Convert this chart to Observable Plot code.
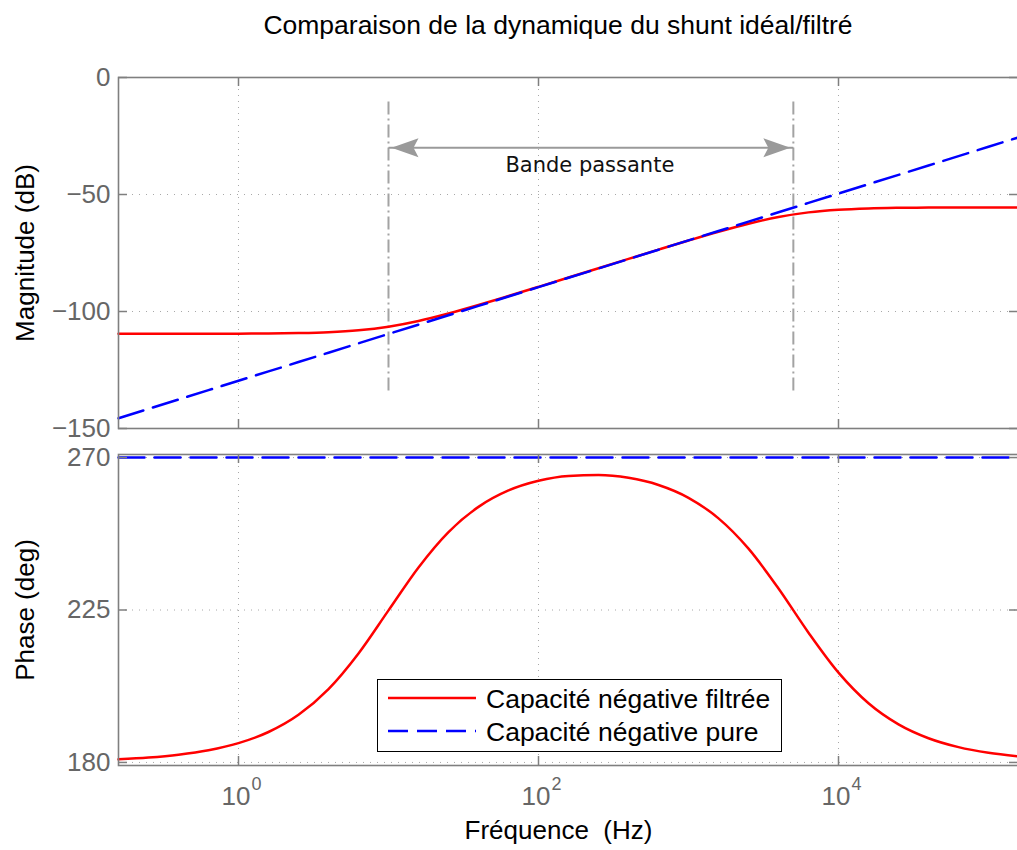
<!DOCTYPE html>
<html>
<head>
<meta charset="utf-8">
<script src="https://cdn.jsdelivr.net/npm/d3@7"></script>
<script src="https://cdn.jsdelivr.net/npm/@observablehq/plot@0.6"></script>
<style>
html, body { margin: 0; padding: 0; background: #fff; overflow: hidden; }
#wrap { position: relative; width: 1018px; height: 850px; overflow: hidden; font-family: "Liberation Sans", Arial, sans-serif; background: #fff; }
#title { height: 50px; line-height: 50px; font-size: 26.5px; color: #000; text-align: center; padding-left: 98px; box-sizing: border-box; width: 1018px; white-space: nowrap; }
#legend { position: absolute; left: 377px; top: 679px; width: 405px; height: 73px; border: 1px solid #000; background: #fff; box-sizing: border-box; z-index: 2; }
#legend svg { display: block; }
</style>
</head>
<body>
<div id="wrap">
  <div id="title">Comparaison de la dynamique du shunt idéal/filtré</div>
  <div id="topPanel"></div>
  <div id="bottomPanel"></div>
  <div id="legend"></div>
</div>
<script>
// ---- Data (frequency in Hz) ----
const freq = [0.1585, 0.2512, 0.3981, 0.631, 1, 1.585, 2.512, 3.981, 6.31, 10,
  15.85, 25.12, 39.81, 63.1, 100, 158.5, 251.2, 398.1, 631, 1000,
  1585, 2512, 3981, 6310, 10000, 15850, 25120, 39810, 63100, 100000, 158490];

const magFiltered = [-109.5, -109.5, -109.49, -109.48, -109.46, -109.39, -109.23, -108.86, -108.04, -106.49,
  -104.05, -100.86, -97.24, -93.39, -89.46, -85.49, -81.5, -77.53, -73.57, -69.67,
  -65.92, -62.48, -59.63, -57.64, -56.49, -55.93, -55.69, -55.59, -55.55, -55.53, -55.52];

const magPure = [-145.6, -141.6, -137.6, -133.6, -129.6, -125.6, -121.6, -117.6, -113.6, -109.6,
  -105.6, -101.6, -97.6, -93.6, -89.6, -85.6, -81.6, -77.6, -73.6, -69.6,
  -65.6, -61.6, -57.6, -53.6, -49.6, -45.6, -41.6, -37.6, -33.6, -29.6, -25.6];

const phaseFiltered = [180.91, 181.44, 182.28, 183.6, 185.7, 188.99, 194.07, 201.65, 212.18, 224.89,
  237.57, 248.01, 255.44, 260.28, 263.14, 264.57, 264.84, 264.01, 261.9, 258.12,
  252.05, 243.11, 231.35, 218.3, 206.51, 197.47, 191.24, 187.15, 184.52, 182.86, 181.8];

const phasePure = [270, 270, 270, 270, 270, 270, 270, 270, 270, 270,
  270, 270, 270, 270, 270, 270, 270, 270, 270, 270,
  270, 270, 270, 270, 270, 270, 270, 270, 270, 270, 270];

const seriesNames = ["Capacité négative filtrée", "Capacité négative pure"];
const xDomain = [0.1585, 158490];
const xTicks = [1, 100, 10000];
const xTickExponents = ["0", "2", "4"];
const magTicks = [-150, -100, -50, 0];
const magDomain = [-150, 0];
const phaseTicks = [180, 225, 270];
const phaseDomain = [179.1, 270.9];
const bandEdges = [10, 5000];
const bandRuleTop = -10.5;
const bandRuleBottom = -134;
const bandArrowY = -30;
const bandLabel = "Bande passante";
const bandLabelFreq = 220;
const bandLabelY = -37.7;
const xLabel = "Fréquence\u00a0 (Hz)";
const magLabel = "Magnitude (dB)";
const phaseLabel = "Phase (deg)";

// ---- Styling ----
const W = 1018, ML = 118, MR = 0;
const frameW = W - ML - MR;
const tickLen = 9;
const axisColor = "#7f7f7f";
const tickTextColor = "#666";
const gridColor = "#a8a8a8";
const red = "#ff0000", blue = "#0000ff";
const fontFamily = "'Liberation Sans', Arial, sans-serif";

const headLeft = { draw(ctx) { ctx.moveTo(3, 0); ctx.lineTo(30, -9.5); ctx.lineTo(25, 0); ctx.lineTo(30, 9.5); ctx.closePath(); } };
const headRight = { draw(ctx) { ctx.moveTo(-3, 0); ctx.lineTo(-30, -9.5); ctx.lineTo(-25, 0); ctx.lineTo(-30, 9.5); ctx.closePath(); } };

const magData = freq.map((f, i) => ({ f, filt: magFiltered[i], pure: magPure[i] }));
const phaseData = freq.map((f, i) => ({ f, filt: phaseFiltered[i], pure: phasePure[i] }));

function frameTicks(yTicks, frameH) {
  return [
    Plot.tickY(yTicks, { y: d => d, insetRight: frameW - tickLen, stroke: axisColor, strokeWidth: 1.5 }),
    Plot.tickY(yTicks, { y: d => d, insetLeft: frameW - tickLen, stroke: axisColor, strokeWidth: 1.5 }),
    Plot.tickX(xTicks, { x: d => d, insetBottom: frameH - tickLen, stroke: axisColor, strokeWidth: 1.5 }),
    Plot.tickX(xTicks, { x: d => d, insetTop: frameH - tickLen, stroke: axisColor, strokeWidth: 1.5 })
  ];
}

// ---- Top panel: magnitude ----
const topH = 390, topMT = 27, topMB = 12;
const topPlot = Plot.plot({
  width: W, height: topH,
  marginLeft: ML, marginRight: MR, marginTop: topMT, marginBottom: topMB,
  style: { fontFamily, fontSize: "26px", background: "transparent", overflow: "visible", maxWidth: "none" },
  x: { type: "log", domain: xDomain, axis: null },
  y: { domain: magDomain, axis: null },
  marks: [
    Plot.gridX(xTicks, { x: d => d, stroke: gridColor, strokeOpacity: 1, strokeWidth: 1, strokeDasharray: "1,5" }),
    Plot.gridY(magTicks, { y: d => d, stroke: gridColor, strokeOpacity: 1, strokeWidth: 1, strokeDasharray: "1,6" }),
    Plot.ruleX(bandEdges, { x: d => d, y1: bandRuleTop, y2: bandRuleBottom, stroke: "#a3a3a3", strokeWidth: 2, strokeDasharray: "13,4,2,4" }),
    Plot.line(magData, { x: "f", y: "filt", stroke: red, strokeWidth: 2.5, curve: "monotone-x" }),
    Plot.line(magData, { x: "f", y: "pure", stroke: blue, strokeWidth: 2.5, strokeDasharray: "26,10" }),
    Plot.link([bandEdges], { x1: d => d[0], x2: d => d[1], y1: () => bandArrowY, y2: () => bandArrowY, stroke: "#9a9a9a", strokeWidth: 2 }),
    Plot.dot([bandEdges[0]], { x: d => d, y: () => bandArrowY, symbol: headLeft, fill: "#9a9a9a", stroke: "none" }),
    Plot.dot([bandEdges[1]], { x: d => d, y: () => bandArrowY, symbol: headRight, fill: "#9a9a9a", stroke: "none" }),
    Plot.text([bandLabel], { x: () => bandLabelFreq, y: () => bandLabelY, text: d => d, fontFamily: "DejaVu Sans", fontSize: 21, fill: "#111" }),
    Plot.frame({ stroke: axisColor, strokeWidth: 1.6 }),
    ...frameTicks(magTicks, topH - topMT - topMB),
    Plot.axisY(magTicks, { tickSize: 0, tickPadding: 8, label: null, color: tickTextColor, fontSize: 26 }),
    Plot.text([magLabel], { frameAnchor: "left", dx: -93, rotate: -90, textAnchor: "middle", lineAnchor: "middle", text: d => d, fill: "#000", fontSize: 26 })
  ]
});
document.getElementById("topPanel").appendChild(topPlot);

// ---- Bottom panel: phase ----
const botH = 410, botMT = 14, botMB = 85;
const bottomPlot = Plot.plot({
  width: W, height: botH,
  marginLeft: ML, marginRight: MR, marginTop: botMT, marginBottom: botMB,
  style: { fontFamily, fontSize: "26px", background: "transparent", overflow: "visible", maxWidth: "none" },
  x: { type: "log", domain: xDomain, axis: null },
  y: { domain: phaseDomain, axis: null },
  marks: [
    Plot.gridX(xTicks, { x: d => d, stroke: gridColor, strokeOpacity: 1, strokeWidth: 1, strokeDasharray: "1,5" }),
    Plot.gridY(phaseTicks, { y: d => d, stroke: gridColor, strokeOpacity: 1, strokeWidth: 1, strokeDasharray: "1,6" }),
    Plot.line(phaseData, { x: "f", y: "filt", stroke: red, strokeWidth: 2.5, curve: "monotone-x" }),
    Plot.line(phaseData, { x: "f", y: "pure", stroke: blue, strokeWidth: 2.5, strokeDasharray: "26,10" }),
    Plot.frame({ stroke: axisColor, strokeWidth: 1.6 }),
    ...frameTicks(phaseTicks, botH - botMT - botMB),
    Plot.axisY(phaseTicks, { tickSize: 0, tickPadding: 8, label: null, color: tickTextColor, fontSize: 26 }),
    Plot.text(xTicks, { x: d => d, frameAnchor: "bottom", lineAnchor: "middle", text: () => "10", textAnchor: "end", dx: 12, dy: 31, fill: tickTextColor, fontSize: 26 }),
    Plot.text(xTicks.map((d, i) => ({ f: d, e: xTickExponents[i] })), { x: "f", frameAnchor: "bottom", lineAnchor: "middle", text: "e", textAnchor: "start", dx: 13, dy: 19, fill: tickTextColor, fontSize: 18 }),
    Plot.text([xLabel], { frameAnchor: "bottom", lineAnchor: "middle", textAnchor: "middle", dx: -10, dy: 65, text: d => d, fill: "#000", fontSize: 26 }),
    Plot.text([phaseLabel], { frameAnchor: "left", dx: -93, rotate: -90, textAnchor: "middle", lineAnchor: "middle", text: d => d, fill: "#000", fontSize: 26 })
  ]
});
document.getElementById("bottomPanel").appendChild(bottomPlot);

// ---- Legend ----
const legendStyles = [
  { color: red, dash: null },
  { color: blue, dash: "20,9" }
];
const ns = "http://www.w3.org/2000/svg";
const lsvg = document.createElementNS(ns, "svg");
lsvg.setAttribute("width", 403);
lsvg.setAttribute("height", 71);
seriesNames.forEach((name, i) => {
  const yLine = 18 + i * 33;
  const ln = document.createElementNS(ns, "line");
  ln.setAttribute("x1", 10); ln.setAttribute("x2", 98);
  ln.setAttribute("y1", yLine); ln.setAttribute("y2", yLine);
  ln.setAttribute("stroke", legendStyles[i].color);
  ln.setAttribute("stroke-width", 2.5);
  if (legendStyles[i].dash) ln.setAttribute("stroke-dasharray", legendStyles[i].dash);
  lsvg.appendChild(ln);
  const tx = document.createElementNS(ns, "text");
  tx.setAttribute("x", 108);
  tx.setAttribute("y", yLine + 9.5);
  tx.setAttribute("font-size", 26.5);
  tx.setAttribute("font-family", fontFamily);
  tx.setAttribute("fill", "#000");
  tx.textContent = name;
  lsvg.appendChild(tx);
});
document.getElementById("legend").appendChild(lsvg);
</script>
</body>
</html>
